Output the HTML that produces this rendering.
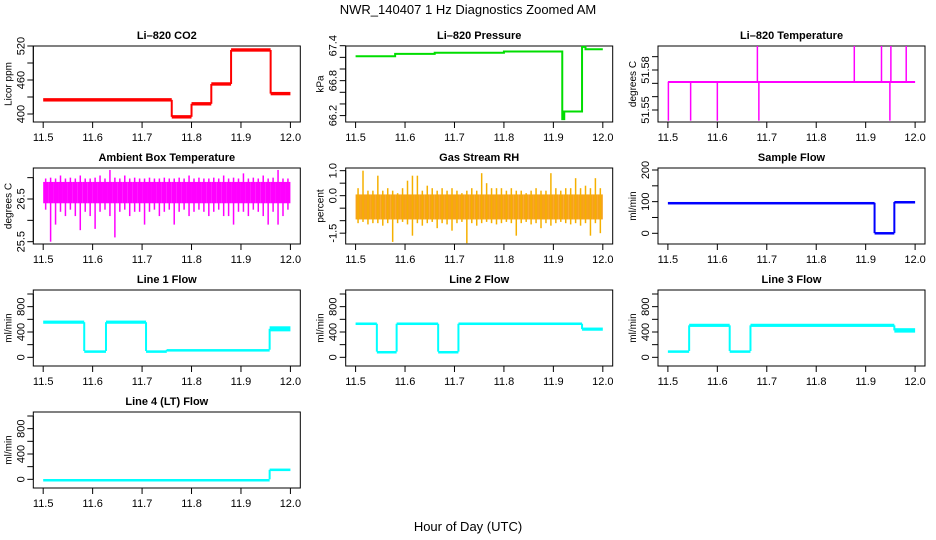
<!DOCTYPE html>
<html><head><meta charset="utf-8"><style>
html,body{margin:0;padding:0;background:#fff}
svg{display:block;font-family:"Liberation Sans",Arial,sans-serif}
</style></head><body>
<svg id="chart" width="936" height="540" viewBox="0 0 936 540">
<text x="468" y="14" text-anchor="middle" font-size="13">NWR_140407  1 Hz Diagnostics Zoomed AM</text>
<text x="468" y="531" text-anchor="middle" font-size="13">Hour of Day (UTC)</text>
</svg>
<script>
// ---- data ----
const xTicks=[11.5,11.6,11.7,11.8,11.9,12.0];
const xTickLabels=["11.5","11.6","11.7","11.8","11.9","12.0"];
const co2Breaks=[11.5,11.76,11.8,11.84,11.88,11.96,12.0];
const co2Lo=[422,392,415,450,510,433];
const co2Hi=[428,398,421,456,516,439];
const presBreaks=[11.5,11.58,11.66,11.8,11.918,11.922,11.958,11.965,12.0];
const presLevel=[67.22,67.26,67.28,67.30,66.14,66.27,67.38,67.34];
const tempBase=51.571;
const tempDownSpikes=[11.501,11.546,11.6,11.684,11.949];
const tempUpSpikes=[11.681,11.877,11.932,11.951,11.982];
const tempSpikeMin=51.542, tempSpikeMax=51.598;
const ambHi=[26.98,27.0,26.98,27.05,26.98,27.0,26.98,27.05,26.98,26.98,27.0,27.05,26.98,27.18,27.0,26.98,27.05,26.98,27.0,26.98,26.98,27.0,26.98,26.98,27.0,26.98,26.98,27.0,26.98,27.05,26.98,27.0,26.98,26.98,27.0,26.98,27.05,26.98,27.0,26.98,27.1,26.98,27.0,26.98,27.05,26.98,27.0,27.18,26.98,26.98];
const ambLo=[26.25,25.5,25.9,26.2,26.1,26.25,26.1,25.77,26.2,26.1,25.8,26.2,26.25,26.1,25.6,26.2,26.25,26.1,26.2,26.2,25.9,26.2,26.25,26.1,26.2,26.25,25.9,26.2,26.25,26.1,26.2,26.25,26.2,26.1,26.2,26.25,26.1,26.1,25.9,26.2,26.2,26.1,26.25,26.2,26.1,25.9,26.2,25.9,26.1,26.25];
const rhHi=[0.3,1.0,0.2,0.2,0.8,0.2,0.3,0.2,0.1,0.3,0.6,0.8,0.8,0.2,0.4,0.3,0.2,0.3,0.2,0.3,0.2,0.1,0.2,0.3,0.2,0.9,0.5,0.3,0.3,0.3,0.2,0.3,0.2,0.2,0.1,0.2,0.3,0.2,0.2,0.9,0.3,0.2,0.3,0.3,0.7,0.3,0.4,0.3,0.7,0.3];
const rhLo=[-1.1,-1.05,-1.15,-1.1,-1.1,-1.2,-1.1,-1.85,-1.1,-1.05,-1.15,-1.6,-1.1,-1.2,-1.1,-1.05,-1.3,-1.1,-1.15,-1.4,-1.1,-1.05,-1.9,-1.1,-1.2,-1.1,-1.05,-1.1,-1.15,-1.1,-1.05,-1.1,-1.6,-1.1,-1.05,-1.15,-1.1,-1.3,-1.1,-1.2,-1.1,-1.05,-1.1,-1.15,-1.1,-1.2,-1.1,-1.6,-1.1,-1.5];
const sampleBreaks=[11.5,11.918,11.958,12.0];
const sampleLo=[94,-3,96];
const sampleHi=[99,4,102];
const line1Breaks=[11.5,11.583,11.627,11.708,11.75,11.958,12.0];
const line1Lo=[530,90,530,90,110,410];
const line1Hi=[580,110,580,110,130,490];
const line2Breaks=[11.5,11.543,11.583,11.667,11.708,11.958,12.0];
const line2Lo=[510,80,510,80,510,420];
const line2Hi=[550,100,550,100,550,470];
const line3Breaks=[11.5,11.543,11.625,11.667,11.958,12.0];
const line3Lo=[90,480,90,480,390];
const line3Hi=[110,530,110,530,460];
const line4Breaks=[11.5,11.958,12.0];
const line4Lo=[-5,130];
const line4Hi=[5,170];

// ---- layout ----
const svg=document.getElementById('chart');
const NS='http://www.w3.org/2000/svg';
const COLX=[33.3,345.7,658], ROWY=[46,168,290,412], W=267, H=76;
const XLIM=[11.48,12.02];
function mk(tag,attrs,parent){const e=document.createElementNS(NS,tag);for(const k in attrs)e.setAttribute(k,attrs[k]);(parent||svg).appendChild(e);return e;}

function panel(key,col,row,ylim,yticks,ylabs,ylabTexts,ylabel,title){
  const L=COLX[col],T=ROWY[row];
  const g=mk('g',{});
  
  
  const X=v=>L+(v-XLIM[0])/(XLIM[1]-XLIM[0])*W;
  const Y=v=>T+H-(v-ylim[0])/(ylim[1]-ylim[0])*H;
  const t=mk('text',{x:L+W/2,y:T-7,'text-anchor':'middle','font-size':'11','font-weight':'bold'},g);
  t.textContent=title;
  
  
  const box=mk('rect',{x:L,y:T,width:W,height:H,fill:'none',stroke:'#000','stroke-width':1},g);
  
  
  const xa=mk('line',{x1:X(xTicks[0]),x2:X(xTicks[xTicks.length-1]),y1:T+H,y2:T+H,stroke:'#000'},g);
  
  
  xTicks.forEach((v,i)=>{
    const tk=mk('line',{x1:X(v),x2:X(v),y1:T+H,y2:T+H+6,stroke:'#000'},g);
    
    
    const lb=mk('text',{x:X(v),y:T+H+19,'text-anchor':'middle','font-size':'11'},g);
    lb.textContent=xTickLabels[i];
    
    
  });
  const ya=mk('line',{x1:L,x2:L,y1:Y(yticks[0]),y2:Y(yticks[yticks.length-1]),stroke:'#000'},g);
  
  
  yticks.forEach(v=>{
    const tk=mk('line',{x1:L-6,x2:L,y1:Y(v),y2:Y(v),stroke:'#000'},g);
    
    
  });
  ylabs.forEach((v,i)=>{
    const yy=Y(v);
    const lb=mk('text',{x:L-9,y:yy,'text-anchor':'middle','font-size':'11',transform:`rotate(-90 ${L-9} ${yy})`},g);
    lb.textContent=ylabTexts[i];
    
    
  });
  const yl=mk('text',{x:L-22,y:T+H/2,'text-anchor':'middle','font-size':'10',transform:`rotate(-90 ${L-22} ${T+H/2})`},g);
  yl.textContent=ylabel;
  
  
  return {X,Y,g};
}

function steps(p,key,breaks,lo,hi,color){
  for(let i=0;i<lo.length;i++){
    const y1=p.Y(hi[i]),y2=p.Y(lo[i]);
    const r=mk('rect',{x:p.X(breaks[i]),y:Math.min(y1,y2),width:p.X(breaks[i+1])-p.X(breaks[i]),height:Math.max(2.5,Math.abs(y2-y1)),fill:color},p.g);
    
    
    if(i>0){
      const a=(lo[i-1]+hi[i-1])/2,b=(lo[i]+hi[i])/2;
      const c=mk('line',{x1:p.X(breaks[i]),x2:p.X(breaks[i]),y1:p.Y(a),y2:p.Y(b),stroke:color,'stroke-width':2},p.g);
      
      
    }
  }
}

function bins(p,key,lo,hi,color,spikeColor,coreLo,coreHi){
  const n=lo.length,bw=0.5/n;
  for(let i=0;i<n;i++){
    const x0=p.X(11.5+i*bw),x1=p.X(11.5+(i+1)*bw);
    const cl=Math.max(lo[i],coreLo),ch=Math.min(hi[i],coreHi);
    const r=mk('rect',{x:x0,y:p.Y(ch),width:x1-x0,height:p.Y(cl)-p.Y(ch),fill:color},p.g);
    
    
    const s=mk('line',{x1:(x0+x1)/2,x2:(x0+x1)/2,y1:p.Y(hi[i]),y2:p.Y(lo[i]),stroke:spikeColor,'stroke-width':1.5},p.g);
    
    
  }
}

// CO2
const p1=panel('co2',0,0,[385.9,520],[400,430,460,490,520],[400,460,520],["400","460","520"],'Licor ppm','Li\u2013820 CO2');
steps(p1,'co2',co2Breaks,co2Lo,co2Hi,'#ff0000');
// Pressure
const p2=panel('pressure',1,0,[66.09,67.395],[66.2,66.4,66.6,66.8,67.0,67.2,67.4],[66.2,66.8,67.4],["66.2","66.8","67.4"],'kPa','Li\u2013820 Pressure');
{let d='';presLevel.forEach((v,i)=>{d+=(i?'L':'M')+p2.X(presBreaks[i])+' '+p2.Y(v)+' L'+p2.X(presBreaks[i+1])+' '+p2.Y(v)+' ';});
const pl=mk('path',{d:d,fill:'none',stroke:'#00dd00','stroke-width':2},p2.g);

}
// Temperature
const p3=panel('temperature',2,0,[51.541,51.598],[51.55,51.56,51.57,51.58,51.59],[51.55,51.58],["51.55","51.58"],'degrees C','Li\u2013820 Temperature');
{const bl=mk('line',{x1:p3.X(11.5),x2:p3.X(12.0),y1:p3.Y(tempBase),y2:p3.Y(tempBase),stroke:'#ff00ff','stroke-width':2},p3.g);


tempDownSpikes.forEach(v=>{const s=mk('line',{x1:p3.X(v),x2:p3.X(v),y1:p3.Y(tempBase),y2:p3.Y(tempSpikeMin),stroke:'#ff00ff','stroke-width':1.5},p3.g);

});
tempUpSpikes.forEach(v=>{const s=mk('line',{x1:p3.X(v),x2:p3.X(v),y1:p3.Y(tempBase),y2:p3.Y(tempSpikeMax),stroke:'#ff00ff','stroke-width':1.5},p3.g);

});}
// Ambient
const p4=panel('ambient',0,1,[25.446,27.226],[25.5,26.0,26.5,27.0],[25.5,26.5],["25.5","26.5"],'degrees C','Ambient Box Temperature');
bins(p4,'ambient',ambLo,ambHi,'#ff00ff','#ff00ff',26.4,26.9);
// RH
const p5=panel('rh',1,1,[-1.933,1.107],[-1.5,-1.0,-0.5,0.0,0.5,1.0],[-1.5,0.0,1.0],["-1.5","0.0","1.0"],'percent','Gas Stream RH');
bins(p5,'rh',rhLo,rhHi,'#f7a21a','#f5b000',-0.95,0.05);
// Sample flow
const p6=panel('sample-flow',2,1,[-33.8,206.3],[0,50,100,150,200],[0,100,200],["0","100","200"],'ml/min','Sample Flow');
steps(p6,'sample-flow',sampleBreaks,sampleLo,sampleHi,'#0000ff');
// Line flows
const fl=[-137,1063],ft=[0,200,400,600,800,1000],fl2=[0,400,800],fl2t=["0","400","800"];
const p7=panel('line1-flow',0,2,fl,ft,fl2,fl2t,'ml/min','Line 1 Flow');
steps(p7,'line1-flow',line1Breaks,line1Lo,line1Hi,'#00ffff');
const p8=panel('line2-flow',1,2,fl,ft,fl2,fl2t,'ml/min','Line 2 Flow');
steps(p8,'line2-flow',line2Breaks,line2Lo,line2Hi,'#00ffff');
const p9=panel('line3-flow',2,2,fl,ft,fl2,fl2t,'ml/min','Line 3 Flow');
steps(p9,'line3-flow',line3Breaks,line3Lo,line3Hi,'#00ffff');
const p10=panel('line4-flow',0,3,fl,ft,fl2,fl2t,'ml/min','Line 4 (LT) Flow');
steps(p10,'line4-flow',line4Breaks,line4Lo,line4Hi,'#00ffff');
</script>
</body></html>
